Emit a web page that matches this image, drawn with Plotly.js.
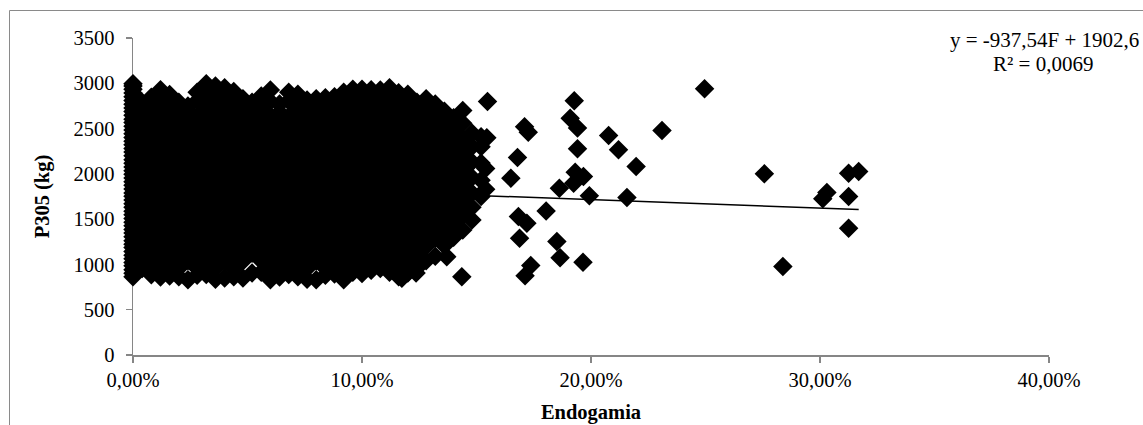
<!DOCTYPE html>
<html>
<head>
<meta charset="utf-8">
<script src="https://cdn.plot.ly/plotly-3.0.1.min.js"></script>
<style>
  html, body { margin: 0; padding: 0; background: #fff; }
  #chart { width: 1143px; height: 425px; }
</style>
</head>
<body>
<div id="chart"></div>
<script>
// ---- Data (Endogamia = inbreeding F, P305 in kg) ----
// Animals with F = 0 (dense column along the y axis)
const zeroF_P305 = [865, 902, 941, 985, 1022, 1063, 1101, 1144, 1186, 1224, 1262, 1305, 1347, 1385,
  1428, 1466, 1507, 1549, 1588, 1630, 1671, 1710, 1752, 1790, 1833, 1874, 1912, 1955, 1996, 2035,
  2077, 2118, 2156, 2199, 2240, 2279, 2321, 2360, 2402, 2444, 2483, 2525, 2566, 2604, 2646, 2688,
  2727, 2769, 2810, 2850, 2892, 2933, 2970, 2995];

// Core cloud: inbreeding levels and the P305 values observed at each level
const coreF = [0.004, 0.008, 0.012, 0.016, 0.020, 0.024, 0.028, 0.032, 0.036, 0.040,
  0.044, 0.048, 0.052, 0.056, 0.060, 0.064, 0.068, 0.072, 0.076, 0.080,
  0.084, 0.088, 0.092, 0.096, 0.100, 0.104, 0.108, 0.112, 0.116, 0.120,
  0.124, 0.128, 0.132, 0.136, 0.140, 0.144, 0.148, 0.152];
const coreP305 = [
  [955, 1118, 1293, 1461, 1622, 1797, 1958, 2134, 2301, 2463, 2637, 2790],
  [885, 1040, 1210, 1371, 1545, 1706, 1881, 2043, 2217, 2379, 2553, 2714, 2845],
  [860, 960, 1125, 1287, 1462, 1623, 1798, 1959, 2133, 2295, 2470, 2631, 2805, 2930],
  [872, 1035, 1209, 1370, 1545, 1707, 1881, 2042, 2217, 2378, 2553, 2715, 2875],
  [865, 957, 1119, 1294, 1455, 1630, 1791, 1965, 2127, 2301, 2463, 2637, 2790],
  [830, 1041, 1203, 1377, 1539, 1713, 1875, 2049, 2211, 2385, 2547, 2690, 2750],
  [880, 958, 1126, 1289, 1461, 1623, 1797, 1960, 2133, 2296, 2469, 2632, 2805, 2900],
  [890, 1042, 1205, 1378, 1540, 1714, 1877, 2050, 2213, 2386, 2548, 2721, 2884, 2995],
  [835, 955, 1121, 1292, 1457, 1628, 1793, 1964, 2129, 2300, 2465, 2636, 2801, 2970],
  [850, 1037, 1208, 1373, 1544, 1709, 1880, 2045, 2216, 2381, 2552, 2717, 2888, 2950],
  [865, 953, 1124, 1289, 1460, 1625, 1796, 1961, 2132, 2297, 2468, 2633, 2804, 2910],
  [850, 1039, 1207, 1375, 1543, 1711, 1879, 2047, 2215, 2383, 2551, 2719, 2830],
  [905, 1123, 1291, 1459, 1627, 1795, 1963, 2131, 2299, 2467, 2635, 2790],
  [915, 1040, 1204, 1376, 1540, 1712, 1876, 2048, 2212, 2384, 2548, 2720, 2860],
  [830, 955, 1120, 1292, 1456, 1628, 1792, 1964, 2128, 2300, 2464, 2636, 2800, 2925],
  [860, 1036, 1207, 1372, 1543, 1708, 1879, 2044, 2215, 2380, 2551, 2680, 2770],
  [890, 957, 1125, 1288, 1460, 1624, 1796, 1960, 2132, 2296, 2468, 2632, 2804, 2900],
  [865, 1039, 1206, 1375, 1542, 1711, 1878, 2047, 2214, 2383, 2550, 2719, 2880],
  [835, 956, 1121, 1290, 1457, 1626, 1793, 1962, 2129, 2298, 2465, 2634, 2815],
  [830, 1038, 1207, 1374, 1543, 1710, 1879, 2046, 2215, 2382, 2551, 2718, 2830],
  [880, 958, 1122, 1291, 1458, 1627, 1794, 1963, 2130, 2299, 2466, 2635, 2760, 2840],
  [895, 1040, 1205, 1376, 1541, 1712, 1877, 2048, 2213, 2384, 2549, 2720, 2850],
  [830, 954, 1123, 1290, 1459, 1626, 1795, 1962, 2131, 2298, 2467, 2634, 2803, 2900],
  [915, 1037, 1208, 1373, 1544, 1709, 1880, 2045, 2216, 2381, 2552, 2717, 2888, 2935],
  [900, 955, 1124, 1289, 1460, 1625, 1796, 1961, 2132, 2297, 2468, 2633, 2804, 2935],
  [935, 1041, 1206, 1377, 1542, 1713, 1878, 2049, 2214, 2385, 2550, 2721, 2886, 2930],
  [955, 1122, 1291, 1458, 1627, 1794, 1963, 2130, 2299, 2466, 2635, 2802, 2925],
  [915, 1039, 1207, 1375, 1543, 1711, 1879, 2047, 2215, 2383, 2551, 2719, 2887, 2950],
  [865, 956, 1121, 1290, 1457, 1626, 1793, 1962, 2129, 2298, 2465, 2634, 2801, 2895],
  [905, 1038, 1206, 1374, 1542, 1710, 1878, 2046, 2214, 2382, 2550, 2718, 2880],
  [960, 1122, 1290, 1458, 1626, 1794, 1962, 2130, 2298, 2466, 2634, 2790],
  [1040, 1200, 1380, 1540, 1715, 1875, 2050, 2210, 2385, 2545, 2720, 2830],
  [1090, 1290, 1455, 1630, 1790, 1965, 2125, 2300, 2460, 2640, 2770],
  [1210, 1370, 1545, 1705, 1880, 2040, 2220, 2380, 2555, 2690],
  [1300, 1460, 1620, 1800, 1955, 2135, 2290, 2470, 2620],
  [1380, 1540, 1715, 1870, 2050, 2210, 2390, 2560, 2700],
  [1490, 1630, 1790, 1960, 2130, 2300, 2450],
  [1750, 1930, 2120, 2300, 2409]
];

// Scattered animals beyond the main cloud
const tailF = [0.1174, 0.1236, 0.1370, 0.1436, 0.1545, 0.1540, 0.1540, 0.1548,
  0.1927, 0.1909, 0.1941, 0.1941, 0.2077, 0.2120, 0.2197, 0.1710, 0.1726, 0.1679,
  0.1650, 0.1931, 0.1967, 0.1924, 0.1862, 0.1993, 0.2157, 0.1804, 0.1683, 0.1720,
  0.1688, 0.1851, 0.1865, 0.1965, 0.1737, 0.1712, 0.2310, 0.2496, 0.2757, 0.2838,
  0.3125, 0.3169, 0.3030, 0.3012, 0.3125, 0.3125];
const tailP305 = [848, 906, 1086, 865, 2400, 2060, 1830, 2799,
  2807, 2615, 2505, 2276, 2423, 2265, 2081, 2520, 2460, 2180,
  1952, 2018, 1970, 1897, 1842, 1757, 1738, 1591, 1528, 1455,
  1289, 1252, 1075, 1024, 987, 876, 2479, 2939, 2000, 976,
  2008, 2026, 1794, 1724, 1749, 1400];

// Linear trend reported on the chart
const trendSlope = -937.54;
const trendIntercept = 1902.6;
const eqLine1 = 'y = -937,54F + 1902,6';
const eqLine2 = 'R² = 0,0069';

// ---- Build the point set ----
const xs = [], ys = [];
zeroF_P305.forEach(p => { xs.push(0); ys.push(p); });
coreF.forEach((f, i) => coreP305[i].forEach(p => { xs.push(f); ys.push(p); }));
tailF.forEach((f, i) => { xs.push(f); ys.push(tailP305[i]); });

const fMin = Math.min(...xs), fMax = Math.max(...xs);
const trendX = [fMin, fMax];
const trendY = trendX.map(f => trendSlope * f + trendIntercept);

const FONT = 'Liberation Serif, Times New Roman, serif';
const AXC = '#868686';

const L = 133, R = 94, T = 38, B = 70;
const W = 1143, H = 425;
const pw = W - L - R, ph = H - T - B;
const px = v => (v - L) / pw;        // page px -> paper x
const py = v => (H - B - v) / ph;    // page px -> paper y

const traces = [
  {
    type: 'scatter', mode: 'markers', x: xs, y: ys, cliponaxis: false,
    marker: { symbol: 'diamond', size: 15, color: '#000', line: { width: 0 } },
    hoverinfo: 'x+y', showlegend: false
  },
  {
    type: 'scatter', mode: 'lines', x: trendX, y: trendY, cliponaxis: false,
    line: { color: '#000', width: 1.5 }, hoverinfo: 'skip', showlegend: false
  }
];

const layout = {
  width: W, height: H,
  margin: { l: L, r: R, t: T, b: B, pad: 0 },
  paper_bgcolor: '#fff', plot_bgcolor: '#fff',
  separators: ',.',
  font: { family: FONT, color: '#000', size: 20.5 },
  xaxis: {
    range: [0, 0.4], tickvals: [0, 0.1, 0.2, 0.3, 0.4], tickformat: '.2%',
    showline: true, linecolor: AXC, linewidth: 1.5, mirror: false,
    ticks: 'outside', ticklen: 6, tickwidth: 1.5, tickcolor: AXC,
    showgrid: false, zeroline: false, layer: 'below traces', automargin: false,
    tickfont: { family: FONT, size: 20.5, color: '#000' },
    title: { text: '<b>Endogamia</b>', font: { family: FONT, size: 20.5, color: '#000' }, standoff: 14 }
  },
  yaxis: {
    range: [0, 3500], tick0: 0, dtick: 500,
    showline: true, linecolor: AXC, linewidth: 1.5,
    ticks: 'outside', ticklen: 6, tickwidth: 1.5, tickcolor: AXC, ticklabelstandoff: 7,
    showgrid: false, zeroline: false, layer: 'below traces', automargin: false,
    tickfont: { family: FONT, size: 20.5, color: '#000' },
    title: { text: '<b>P305 (kg)</b>', font: { family: FONT, size: 20.5, color: '#000' }, standoff: 18 }
  },
  annotations: [
    { xref: 'paper', yref: 'paper', x: px(1044), y: py(40), text: eqLine1, showarrow: false,
      xanchor: 'center', yanchor: 'middle', font: { family: FONT, size: 21, color: '#000' } },
    { xref: 'paper', yref: 'paper', x: px(1043), y: py(64), text: eqLine2, showarrow: false,
      xanchor: 'center', yanchor: 'middle', font: { family: FONT, size: 21, color: '#000' } }
  ],
  shapes: [
    { type: 'line', xref: 'paper', yref: 'paper', x0: px(9.5), x1: px(9.5), y0: py(10.5), y1: py(440),
      line: { color: '#8a8a8a', width: 1 } },
    { type: 'line', xref: 'paper', yref: 'paper', x0: px(9.5), x1: px(1160), y0: py(10.5), y1: py(10.5),
      line: { color: '#8a8a8a', width: 1 } }
  ]
};

Plotly.newPlot('chart', traces, layout, { displayModeBar: false, staticPlot: true });
</script>
</body>
</html>
